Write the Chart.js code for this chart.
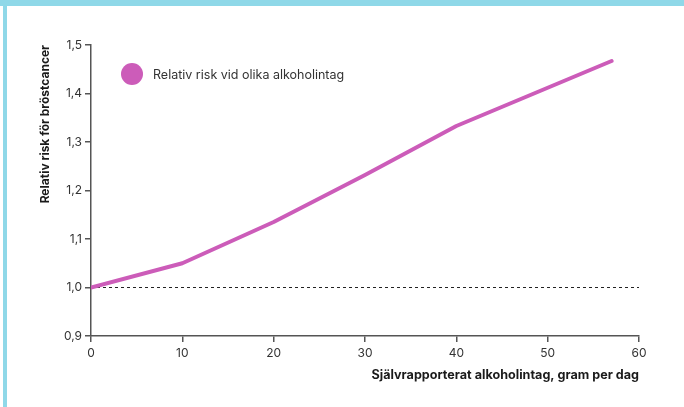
<!DOCTYPE html>
<html>
<head>
<meta charset="utf-8">
<script src="https://cdn.jsdelivr.net/npm/chart.js@4/dist/chart.umd.min.js"></script>
<style>
  html, body { margin: 0; padding: 0; background: #fff; }
  #wrap { position: relative; width: 684px; height: 407px; overflow: hidden; background: #fff; }
  #topbar { position: absolute; left: 0; top: 0; width: 684px; height: 6px; background: #8fd8e8; }
  #leftbar { position: absolute; left: 3px; top: 0; width: 4px; height: 407px; background: #8fd8e8; }
  #c { position: absolute; left: 0; top: 0; }
  #legend { position: absolute; left: 121px; top: 63px; display: flex; align-items: center; font-family: Inter, Roboto, sans-serif; font-size: 12.5px; color: #333; }
  #legend .dot { width: 22px; height: 22px; border-radius: 50%; background: #cc5cb9; margin-right: 10px; }
</style>
</head>
<body>
<div id="wrap">
  <canvas id="c" width="684" height="407"></canvas>
  <div id="topbar"></div>
  <div id="leftbar"></div>
  <div id="legend"><span class="dot"></span><span id="legtext"></span></div>
</div>
<script>
const seriesName = 'Relativ risk vid olika alkoholintag';
const intake = [0, 10, 20, 30, 40, 57];
const relativeRisk = [1.0, 1.05, 1.135, 1.232, 1.333, 1.467];
const referenceX = [0, 60];
const referenceY = [1.0, 1.0];
const xTicks = [0, 10, 20, 30, 40, 50, 60];
const yTicks = ['0,9', '1,0', '1,1', '1,2', '1,3', '1,4', '1,5'];
const xTitle = 'Självrapporterat alkoholintag, gram per dag';
const yTitle = 'Relativ risk för bröstcancer';

document.getElementById('legtext').textContent = seriesName;

const lineColor = '#cc5cb9';
const axisColor = '#555';
const tickFont = { family: 'Inter, Roboto, sans-serif', size: 12 };
const xTitleFont = { family: 'Inter, Roboto, sans-serif', size: 12.6, weight: 'bold' };
const yTitleFont = { family: 'Inter, Roboto, sans-serif', size: 12, weight: 'bold' };

new Chart(document.getElementById('c'), {
  type: 'line',
  data: {
    datasets: [
      {
        label: seriesName,
        data: intake.map((x, i) => ({ x, y: relativeRisk[i] })),
        borderColor: lineColor,
        backgroundColor: lineColor,
        borderWidth: 4,
        borderCapStyle: 'round',
        borderJoinStyle: 'round',
        pointRadius: 0,
        tension: 0,
        order: 0
      },
      {
        label: 'ref',
        data: referenceX.map((x, i) => ({ x, y: referenceY[i] })),
        borderColor: '#222',
        borderWidth: 1,
        borderDash: [3, 3],
        pointRadius: 0,
        order: 1
      }
    ]
  },
  options: {
    responsive: false,
    animation: false,
    layout: { padding: { left: 34, top: 45, right: 45, bottom: 20 } },
    plugins: { legend: { display: false }, tooltip: { enabled: false } },
    scales: {
      x: {
        type: 'linear',
        min: 0, max: 60,
        afterFit: s => { s.height = 51; },
        afterBuildTicks: s => { s.ticks = xTicks.map(v => ({ value: v })); },
        ticks: { color: '#333', font: tickFont, padding: 4, maxRotation: 0, callback: v => String(v) },
        grid: { display: true, drawOnChartArea: false, drawTicks: true, tickLength: 6, color: axisColor, lineWidth: 1.5 },
        border: { display: true, color: axisColor, width: 1.5 },
        title: { display: true, text: xTitle, align: 'end', color: '#1a1a1a', font: xTitleFont, padding: { top: 4, bottom: 4 } }
      },
      y: {
        type: 'linear',
        min: 0.9, max: 1.5,
        afterFit: s => { s.width = 57; },
        afterBuildTicks: s => { s.ticks = yTicks.map((t, i) => ({ value: 0.9 + i * 0.1 })); },
        ticks: { color: '#333', font: tickFont, padding: 3, callback: (v, i) => yTicks[i] },
        grid: { display: true, drawOnChartArea: false, drawTicks: true, tickLength: 6, color: axisColor, lineWidth: 1.5 },
        border: { display: true, color: axisColor, width: 1.5 },
        title: { display: true, text: yTitle, align: 'end', color: '#1a1a1a', font: yTitleFont, padding: { top: 4, bottom: 4 } }
      }
    }
  }
});
</script>
</body>
</html>
